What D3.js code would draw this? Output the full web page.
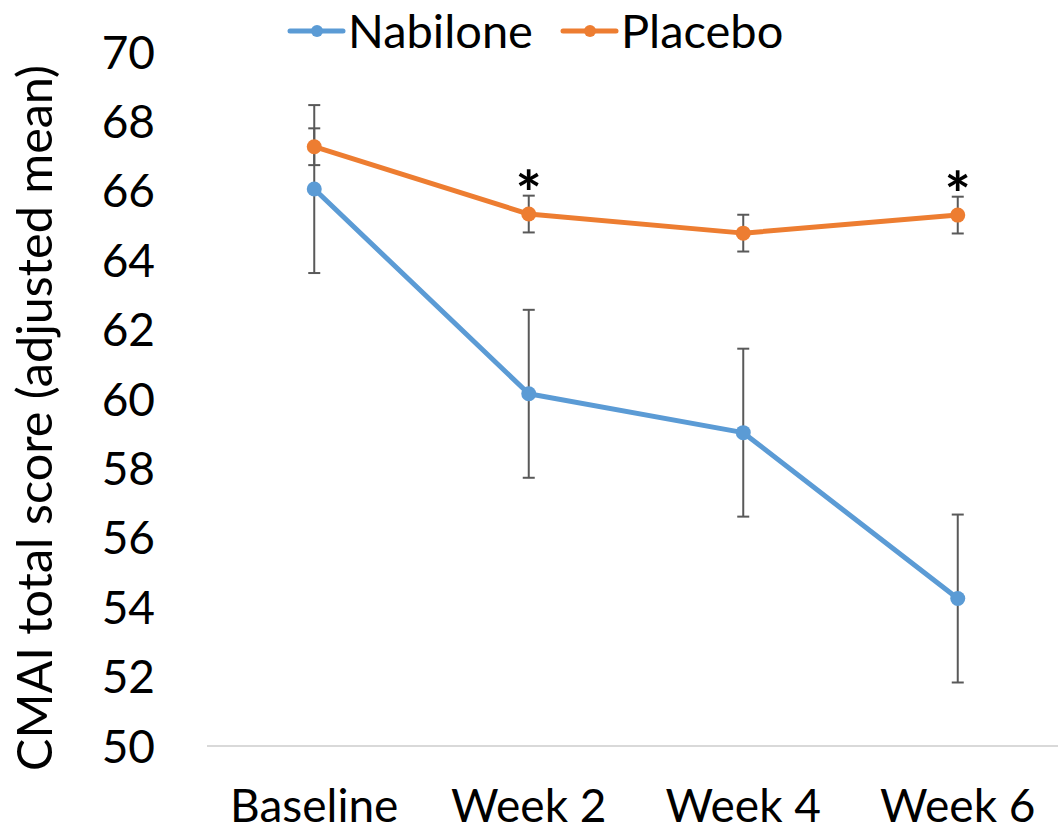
<!DOCTYPE html>
<html lang="en">
<head>
    <meta charset="UTF-8">
    <title>CMAI total score</title>
    <script src="https://d3js.org/d3.v7.min.js"></script>
    <style>
        body { margin: 0; background: #fff; }
        svg { display: block; }
        text { font-family: Lato, "Open Sans", sans-serif; fill: #000; }
    </style>
</head>
<body>
<svg width="1058" height="834"></svg>
<script>
// data
const weeks = ["Baseline", "Week 2", "Week 4", "Week 6"];
const nabilone = [66.05, 60.15, 59.03, 54.25];
const nabiloneErr = [2.42, 2.42, 2.42, 2.42];
const placebo = [67.27, 65.33, 64.78, 65.3];
const placeboErr = [0.53, 0.53, 0.53, 0.53];
const starred = ["Week 2", "Week 6"];
const yTicks = [50, 52, 54, 56, 58, 60, 62, 64, 66, 68, 70];

const width = 1058;

const svg = d3.select("svg");

const x = d3.scalePoint().domain(weeks).range([207, 1065]).padding(0.5);
const y = d3.scaleLinear().domain([50, 70]).range([746, 52]);

// x axis line
svg.append("line")
    .attr("x1", 207).attr("x2", width)
    .attr("y1", y(50)).attr("y2", y(50))
    .attr("stroke", "#d9d9d9")
    .attr("stroke-width", 2);

// y tick labels
svg.append("g")
    .selectAll("text")
    .data(yTicks)
    .join("text")
    .attr("x", 155)
    .attr("y", d => y(d))
    .attr("dy", "0.36em")
    .attr("text-anchor", "end")
    .attr("font-size", 46)
    .text(d => d);

// x tick labels
svg.append("g")
    .selectAll("text")
    .data(weeks)
    .join("text")
    .attr("x", d => x(d))
    .attr("y", 822)
    .attr("text-anchor", "middle")
    .attr("font-size", 46)
    .text(d => d);

// y axis title
svg.append("text")
    .attr("transform", "translate(52,418) rotate(-90)")
    .attr("text-anchor", "middle")
    .attr("font-size", 48.5)
    .text("CMAI total score (adjusted mean)");

const series = [
    { name: "Nabilone", values: nabilone, err: nabiloneErr, color: "#5b9bd5" },
    { name: "Placebo", values: placebo, err: placeboErr, color: "#ed7d31" }
];

const line = d3.line()
    .x((d, i) => x(weeks[i]))
    .y(d => y(d));

// error bars first (drawn under lines)
series.forEach(s => {
    const g = svg.append("g");
    s.values.forEach((v, i) => {
        const cx = x(weeks[i]);
        const top = y(v + s.err[i]);
        const bot = y(v - s.err[i]);
        g.append("line").attr("x1", cx).attr("x2", cx).attr("y1", top).attr("y2", bot)
            .attr("stroke", "#595959").attr("stroke-width", 2);
        [top, bot].forEach(yy => {
            g.append("line").attr("x1", cx - 6).attr("x2", cx + 6).attr("y1", yy).attr("y2", yy)
                .attr("stroke", "#595959").attr("stroke-width", 2);
        });
    });
});

series.forEach(s => {
    svg.append("path")
        .datum(s.values)
        .attr("d", line)
        .attr("fill", "none")
        .attr("stroke", s.color)
        .attr("stroke-width", 5)
        .attr("stroke-linejoin", "round");
    svg.append("g")
        .selectAll("circle")
        .data(s.values)
        .join("circle")
        .attr("cx", (d, i) => x(weeks[i]))
        .attr("cy", d => y(d))
        .attr("r", 7.5)
        .attr("fill", s.color);
});

// significance stars
svg.append("g")
    .selectAll("text")
    .data(starred)
    .join("text")
    .attr("x", d => x(d))
    .attr("y", d => y(placebo[weeks.indexOf(d)] + placeboErr[weeks.indexOf(d)]) + 20)
    .attr("text-anchor", "middle")
    .attr("font-size", 62)
    .attr("font-weight", "bold")
    .text("*");

// legend
const legend = svg.append("g");
const legendX = [290, 563];
series.forEach((s, i) => {
    const lx = legendX[i];
    legend.append("line")
        .attr("x1", lx).attr("x2", lx + 53)
        .attr("y1", 31).attr("y2", 31)
        .attr("stroke", s.color).attr("stroke-width", 5)
        .attr("stroke-linecap", "round");
    legend.append("circle")
        .attr("cx", lx + 27).attr("cy", 31).attr("r", 6)
        .attr("fill", s.color);
    legend.append("text")
        .attr("x", lx + 58).attr("y", 48)
        .attr("font-size", 47)
        .text(s.name);
});
</script>
</body>
</html>
